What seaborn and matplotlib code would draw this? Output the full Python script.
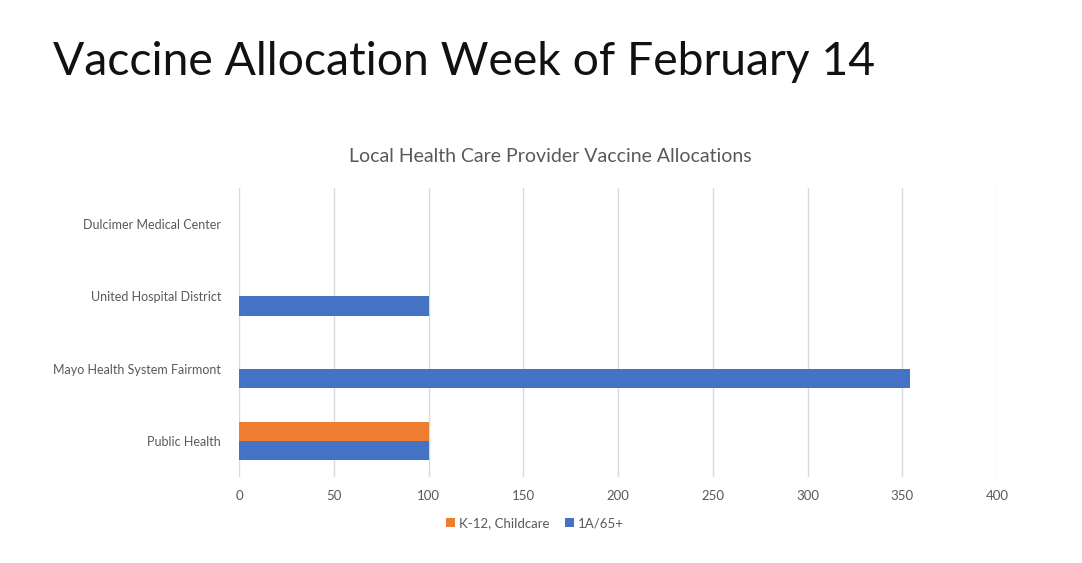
import pandas as pd
import matplotlib.pyplot as plt
import seaborn as sns

providers = ["Dulcimer Medical Center", "United Hospital District",
             "Mayo Health System Fairmont", "Public Health"]
series = ["K-12, Childcare", "1A/65+"]
k12_childcare = [0, 0, 0, 100]
phase_1a_65 = [0, 100, 354, 100]
x_ticks = [0, 50, 100, 150, 200, 250, 300, 350, 400]

palette = {"K-12, Childcare": "#ED7D31", "1A/65+": "#4472C4"}

df = pd.DataFrame({
    "Provider": providers * 2,
    "Group": [series[0]] * len(providers) + [series[1]] * len(providers),
    "Doses": k12_childcare + phase_1a_65,
})

sns.set_theme(style="white")
plt.rcParams["font.family"] = ["Lato", "DejaVu Sans"]

fig = plt.figure(figsize=(10.82, 5.63), dpi=100)
ax = fig.add_axes([239 / 1082, 1 - 477 / 563, 758 / 1082, 289 / 563])

sns.barplot(df, x="Doses", y="Provider", hue="Group", order=providers,
            hue_order=series, palette=palette, orient="h", width=0.53,
            saturation=1, linewidth=0, ax=ax, legend=True)

ax.set_xlim(0, 400)
ax.set_xticks(x_ticks)
ax.xaxis.grid(True, color="#D9D9D9", linewidth=1)
ax.set_axisbelow(True)
for s in ax.spines.values():
    s.set_visible(False)
ax.tick_params(axis="both", length=0, labelsize=9.5, labelcolor="#595959")
ax.tick_params(axis="y", pad=13, labelsize=9)
ax.tick_params(axis="x", pad=9)
ax.set_xlabel("")
ax.set_ylabel("")

handles, labels = ax.get_legend_handles_labels()
ax.get_legend().remove()
fig.legend(handles, labels, loc="center", bbox_to_anchor=(535 / 1082, 1 - 523 / 563),
           ncol=2, frameon=False, fontsize=9.5, labelcolor="#595959",
           handlelength=0.65, handleheight=0.65, handletextpad=0.3, columnspacing=1.2)

fig.text(550 / 1082, 1 - 156 / 563, "Local Health Care Provider Vaccine Allocations",
         ha="center", va="center", fontsize=14, color="#595959")
fig.text(53 / 1082, 1 - 75 / 563, "Vaccine Allocation Week of February 14",
         ha="left", va="baseline", fontsize=33.3, fontweight="normal", color="#111111")

fig.savefig("out.png", dpi=100)
